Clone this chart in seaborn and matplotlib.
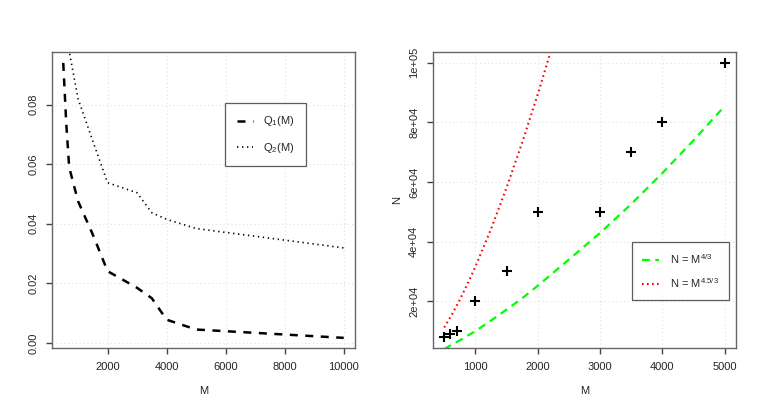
import numpy as np
import pandas as pd
import matplotlib
matplotlib.use("Agg")
import matplotlib.pyplot as plt
import seaborn as sns

# values
m_grid = [500, 600, 700, 1000, 1500, 2000, 3000, 3500, 4000, 5000, 10000]
q1 = [0.094, 0.074, 0.059, 0.0476, 0.0364, 0.0241, 0.0185, 0.015, 0.0078, 0.0045, 0.0017]
q2 = [0.130, 0.114, 0.098, 0.082, 0.0678, 0.0538, 0.0504, 0.0437, 0.0415, 0.0384, 0.0319]

m_pts = [500, 600, 700, 1000, 1500, 2000, 3000, 3500, 4000, 5000]
n_pts = [8000, 9000, 10000, 20000, 30000, 50000, 50000, 70000, 80000, 100000]

m_green = [500, 750, 1000, 1250, 1500, 1750, 2000, 2500, 3000, 3500, 4000, 4500, 5000]
n_green = [3970, 6900, 10000, 13500, 17200, 21000, 25200, 34000, 42900, 52600, 63000, 74000, 85500]
m_red = [500, 625, 750, 875, 1000, 1250, 1500, 1750, 2000, 2250]
n_red = [11200, 15600, 20500, 25900, 31600, 44200, 58100, 73200, 89400, 106700]

sns.set_theme(style="white")
plt.rcParams['font.family'] = ['Liberation Sans', 'DejaVu Sans']
plt.rcParams['mathtext.fontset'] = 'custom'
plt.rcParams['mathtext.rm'] = 'Liberation Sans'
plt.rcParams['mathtext.it'] = 'Liberation Sans'
plt.rcParams['xtick.bottom'] = True
plt.rcParams['ytick.left'] = True
plt.rcParams['xtick.major.size'] = 4
plt.rcParams['ytick.major.size'] = 4

fig = plt.figure(figsize=(7.63, 4.13), dpi=100)
ax1 = fig.add_axes([0.0682, 0.1574, 0.397, 0.717])
ax2 = fig.add_axes([0.5675, 0.1574, 0.397, 0.717])

df = pd.DataFrame({"M": m_grid, "Q1": q1, "Q2": q2})
sns.lineplot(data=df, x="M", y="Q1", ax=ax1, color="black", lw=1.8,
             label=r"Q$_1$(M)")
sns.lineplot(data=df, x="M", y="Q2", ax=ax1, color="black", lw=1.2,
             label=r"Q$_2$(M)")
ax1.lines[0].set_dashes((3.2, 3.0))
ax1.lines[1].set_dashes((0.8, 2.2))
ax1.set_xlim(120, 10380)
ax1.set_ylim(-0.0017, 0.0977)
ax1.set_xticks([2000, 4000, 6000, 8000, 10000])
ax1.set_yticks([0.0, 0.02, 0.04, 0.06, 0.08])
ax1.set_yticklabels(["0.00", "0.02", "0.04", "0.06", "0.08"])
ax1.set_xlabel("M", fontsize=8, labelpad=10)
ax1.set_ylabel("")

pts = pd.DataFrame({"M": m_pts, "N": n_pts})
sns.lineplot(x=m_green, y=n_green, ax=ax2, color="#00ff00", lw=1.6,
             label=r"N = M$^{4/3}$")
sns.lineplot(x=m_red, y=n_red, ax=ax2, color="#ff0000", lw=1.5,
             label=r"N = M$^{4.5/3}$")
ax2.lines[0].set_dashes((3.5, 2.5))
ax2.lines[1].set_dashes((0.8, 1.6))
sns.scatterplot(data=pts, x="M", y="N", ax=ax2, marker="+", color="black",
                s=55, linewidth=1.5, zorder=5)
ax2.set_xlim(320, 5180)
ax2.set_ylim(4320, 103680)
ax2.set_xticks([1000, 2000, 3000, 4000, 5000])
ax2.set_yticks([20000, 40000, 60000, 80000, 100000])
ax2.set_yticklabels(["2e+04", "4e+04", "6e+04", "8e+04", "1e+05"])
ax2.set_xlabel("M", fontsize=8, labelpad=10)
ax2.set_ylabel("N", fontsize=8, labelpad=5)

for ax in (ax1, ax2):
    ax.grid(True, color="#e0e0e0", linestyle=(0, (1, 2.5)), linewidth=0.8)
    for s in ax.spines.values():
        s.set_color("#666666")
        s.set_linewidth(1.0)
    ax.tick_params(axis="both", which="major", direction="out", length=4,
                   width=1.0, color="#444444", labelsize=8, pad=6,
                   bottom=True, left=True)
    for lab in ax.get_yticklabels():
        lab.set_rotation(90)
        lab.set_va("center")

leg1 = ax1.legend(loc="upper left", bbox_to_anchor=(0.571, 0.828),
                  fontsize=8, frameon=True, fancybox=False, handlelength=1.5,
                  labelspacing=1.1, borderpad=1.05, handletextpad=0.9,
                  borderaxespad=0)
leg2 = ax2.legend(loc="upper left", bbox_to_anchor=(0.657, 0.358),
                  fontsize=8, frameon=True, fancybox=False, handlelength=1.5,
                  labelspacing=0.9, borderpad=0.9, handletextpad=1.0,
                  borderaxespad=0)
for leg in (leg1, leg2):
    leg.get_frame().set_edgecolor("#333333")
    leg.get_frame().set_linewidth(0.9)

fig.savefig("out.png", dpi=100)
